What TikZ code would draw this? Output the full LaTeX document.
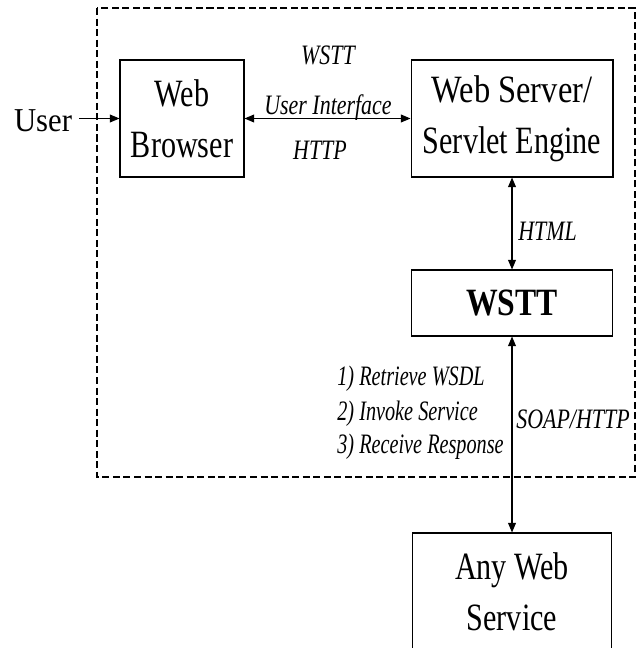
\documentclass[tikz,border=0pt]{standalone}
\usepackage{fontspec}
\setmainfont{Liberation Serif}
\usepackage{graphicx}
\usetikzlibrary{arrows.meta}

\newcommand{\sq}[2][0.78]{\scalebox{#1}[1]{#2}}

\tikzset{
  blk/.style={draw, line width=0.6pt, inner sep=0pt, align=center, font=\fontsize{22}{29}\selectfont},
  lbl/.style={font=\fontsize{16}{19}\selectfont\itshape, inner sep=0pt},
  link/.style={line width=0.6pt},
}

\begin{document}
\begin{tikzpicture}[x=0.02cm, y=-0.02cm, >={Triangle[length=5.5pt,width=4.5pt]}]
  \useasboundingbox (0,0) rectangle (641,648);
  \clip (0,0) rectangle (641,648);
  % frame round the WSTT side
  \draw[dash pattern=on 4pt off 2pt, line width=0.6pt] (97,8) rectangle (635,477);

  \node[font=\fontsize{19}{22}\selectfont, inner sep=0pt, inner xsep=4pt] (user) at (43,121) {\sq[0.92]{User}};
  \node[blk, minimum width=2.48cm, minimum height=2.34cm] (browser) at (182,118.5) {\sq{Web}\\\sq{Browser}};
  \node[blk, minimum width=4.04cm, minimum height=2.34cm] (server) at (512,118.5) {\sq[0.84]{Web Server/}\\\sq{Servlet Engine}};
  \node[blk, minimum width=4.02cm, minimum height=1.32cm, font=\fontsize{22}{24}\selectfont\bfseries] (wstt) at (512,303) {\sq[0.82]{WSTT}};
  \node[blk, minimum width=3.98cm, minimum height=2.36cm] (anyws) at (512,592) {\sq{Any Web}\\\sq{Service}};

  % labels
  \node[lbl, anchor=base] (ifname) at (328,65) {\sq{WSTT}};
  \node[lbl, anchor=base] (ifdesc) at (328,115) {\sq{User Interface}};
  \node[lbl, anchor=base] (ifproto) at (320,160) {\sq{HTTP}};
  \node[lbl, anchor=base west] (html) at (518,240) {\sq{HTML}};
  \node[lbl, anchor=base west] (soap) at (516,428) {\sq{SOAP/HTTP}};
  \node[lbl, anchor=base west] (retr) at (337,385) {\sq[0.72]{1) Retrieve WSDL}};
  \node[lbl, anchor=base west] (invk) at (337,420) {\sq[0.72]{2) Invoke Service}};
  \node[lbl, anchor=base west] (recv) at (337,453) {\sq[0.72]{3) Receive Response}};

  % connectors
  \draw[link, ->] (user.east |- browser) -- (browser);
  \draw[link, <->] (browser) -- (server);
  \draw[link, <->] (server) -- (wstt);
  \draw[link, <->] (wstt) -- (anyws);
\end{tikzpicture}
\end{document}
